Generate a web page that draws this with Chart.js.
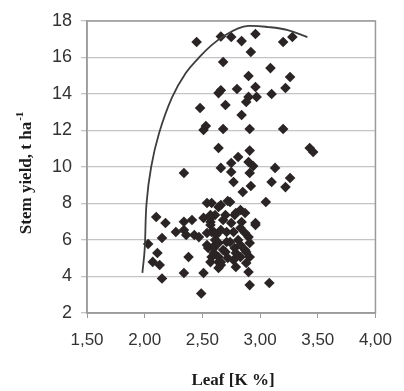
<!DOCTYPE html>
<html>
<head>
<meta charset="utf-8">
<script src="https://cdn.jsdelivr.net/npm/chart.js@4/dist/chart.umd.min.js"></script>
<style>
  html, body { margin: 0; padding: 0; background: #fff; }
  #wrap { width: 404px; height: 391px; }
</style>
</head>
<body>
<div id="wrap"><canvas id="grafico" width="404" height="391"></canvas></div>
<script>
// Leaf K (%) vs stem yield (t/ha)
const leafK = [
  2.45, 2.66, 2.75, 2.84, 2.96, 2.92, 3.20, 3.28,
  2.68, 2.90, 3.09, 3.26,
  2.66, 2.64, 2.80, 2.96, 2.90, 2.88, 2.97, 3.10, 3.22,
  2.48, 2.70, 2.84,
  2.53, 2.51, 2.68, 2.91, 3.20,
  2.64, 2.91, 3.43, 3.46,
  2.81, 2.75, 2.90, 2.94, 2.66, 2.75, 2.91, 3.13,
  3.26, 3.10, 3.22, 2.77, 2.92, 2.85,
  2.34,
  2.54, 3.05,
  2.10, 2.18, 2.34, 2.41, 2.51, 2.57,
  2.27, 2.34, 2.36, 2.43, 2.47, 2.57, 2.60,
  2.15, 2.03, 2.55, 2.61,
  2.11, 2.07, 2.13, 2.38, 2.58,
  2.34, 2.51, 2.15, 2.49,
  2.58, 2.66, 2.74, 2.83, 2.87, 2.78, 2.61, 2.57, 2.68, 2.75, 2.84, 2.96,
  2.58, 2.66, 2.77, 2.87, 2.61, 2.71, 2.81, 2.91, 2.60, 2.68, 2.78, 2.87,
  2.64, 2.72, 2.83, 2.91, 2.66, 2.79, 2.90, 2.64, 2.96,
  2.91, 3.08,
  // dense core
  2.54, 2.64, 2.74, 2.83, 2.60, 2.70, 2.79, 2.88, 2.57, 2.66, 2.77, 2.88,
  2.64, 2.54, 2.62, 2.71, 2.83, 2.90, 2.57, 2.70, 2.79, 2.64, 2.72
];
const stemYield = [
  16.85, 17.15, 17.12, 16.90, 17.29, 16.30, 16.85, 17.12,
  15.75, 14.99, 15.42, 14.93,
  14.20, 14.05, 14.27, 14.38, 13.84, 13.56, 13.84, 14.00, 14.33,
  13.23, 13.40, 12.85,
  12.25, 12.03, 12.08, 12.08, 12.08,
  11.04, 10.90, 11.04, 10.82,
  10.55, 10.22, 10.27, 10.05, 9.95, 9.73, 9.67, 9.95,
  9.40, 9.18, 8.90, 9.18, 8.96, 8.63,
  9.67,
  8.03, 8.08,
  7.26, 6.93, 7.00, 7.10, 7.21, 7.37,
  6.44, 6.55, 6.27, 6.27, 6.16, 6.82, 6.44,
  6.11, 5.78, 5.56, 5.73,
  5.29, 4.80, 4.63, 5.07, 5.07,
  4.19, 4.19, 3.89, 3.07,
  8.03, 7.92, 8.08, 7.64, 7.48, 7.37, 7.37, 6.99, 7.10, 6.93, 6.99, 6.93,
  6.44, 6.55, 6.44, 6.38, 6.00, 5.89, 6.00, 5.84, 5.56, 5.45, 5.56, 5.45,
  5.07, 5.01, 5.07, 5.07, 4.63, 4.52, 4.25, 4.79, 6.82,
  3.53, 3.64,
  // dense core
  5.73, 5.84, 5.89, 5.73, 5.29, 5.34, 5.29, 5.34, 4.79, 4.79, 4.90, 4.74,
  4.47, 6.38, 6.27, 6.44, 6.66, 6.16, 7.21, 7.37, 7.48, 7.81, 8.14
];

// boundary line
const curveK = [1.98, 2.00, 2.016, 2.056, 2.125, 2.236, 2.356, 2.467, 2.58, 2.70, 2.81, 2.90, 3.07, 3.24, 3.41];
const curveYield = [4.2, 5.5, 8.0, 10.0, 11.86, 13.8, 15.15, 15.97, 16.68, 17.23, 17.6, 17.73, 17.67, 17.5, 17.12];

const xTickLabels = ['1,50', '2,00', '2,50', '3,00', '3,50', '4,00'];
const yTickLabels = ['2', '4', '6', '8', '10', '12', '14', '16', '18'];

const puntos = leafK.map((k, i) => ({ x: k, y: stemYield[i] }));
const curva = curveK.map((k, i) => ({ x: k, y: curveYield[i] }));

// box round the plot area and the two axis titles
const marcoYTitulos = {
  id: 'marcoYTitulos',
  afterDraw(chart) {
    const { ctx, chartArea: a } = chart;
    ctx.save();
    ctx.strokeStyle = '#9a9a9a';
    ctx.lineWidth = 1.5;
    ctx.strokeRect(a.left, a.top, a.right - a.left, a.bottom - a.top);

    ctx.fillStyle = '#1a1a1a';
    ctx.font = 'bold 17px "Liberation Serif", "Times New Roman", serif';
    ctx.textAlign = 'center';
    ctx.textBaseline = 'middle';
    ctx.fillText('Leaf [K %]', 233, 381);

    ctx.translate(27, 172);
    ctx.rotate(-Math.PI / 2);
    ctx.fillText('Stem yield, t ha', -6, 0);
    const w = ctx.measureText('Stem yield, t ha').width;
    ctx.font = 'bold 11px "Liberation Serif", "Times New Roman", serif';
    ctx.textAlign = 'left';
    ctx.fillText('-1', -6 + w / 2 + 1, -7);
    ctx.restore();
  }
};

new Chart(document.getElementById('grafico'), {
  type: 'scatter',
  data: {
    datasets: [{
      label: 'Stem yield',
      data: puntos,
      pointStyle: 'rectRot',
      pointRadius: 5.3,
      backgroundColor: '#2a2425',
      borderColor: '#2a2425',
      borderWidth: 0,
      order: 2
    }, {
      type: 'line',
      label: 'Boundary',
      data: curva,
      borderColor: '#3e3e3e',
      borderWidth: 1.8,
      pointRadius: 0,
      tension: 0.4,
      fill: false,
      order: 1
    }]
  },
  options: {
    responsive: false,
    animation: false,
    layout: { padding: { top: 21, right: 25, left: 0, bottom: 0 } },
    plugins: {
      legend: { display: false },
      tooltip: { enabled: false }
    },
    scales: {
      x: {
        type: 'linear',
        min: 1.5,
        max: 4.0,
        afterFit: s => { s.height = 78; },
        afterBuildTicks: s => {
          s.ticks = xTickLabels.map((t, i) => ({ value: 1.5 + i * 0.5 }));
        },
        grid: { drawOnChartArea: false, drawTicks: true, tickLength: 5, color: '#9a9a9a' },
        border: { color: '#9a9a9a', width: 1.5 },
        ticks: {
          padding: 12,
          color: '#333',
          font: { family: 'Arial, "Liberation Sans", sans-serif', size: 17 },
          callback: (v, i) => xTickLabels[i]
        }
      },
      y: {
        min: 2,
        max: 18,
        afterFit: s => { s.width = 87; },
        afterBuildTicks: s => {
          s.ticks = yTickLabels.map(t => ({ value: Number(t) }));
        },
        grid: { color: '#c4c4c8', lineWidth: 1.3, tickLength: 6, drawTicks: true },
        border: { color: '#9a9a9a', width: 1.5 },
        ticks: {
          padding: 9,
          color: '#333',
          font: { family: 'Arial, "Liberation Sans", sans-serif', size: 18 },
          callback: (v, i) => yTickLabels[i]
        }
      }
    }
  },
  plugins: [marcoYTitulos]
});
</script>
</body>
</html>
